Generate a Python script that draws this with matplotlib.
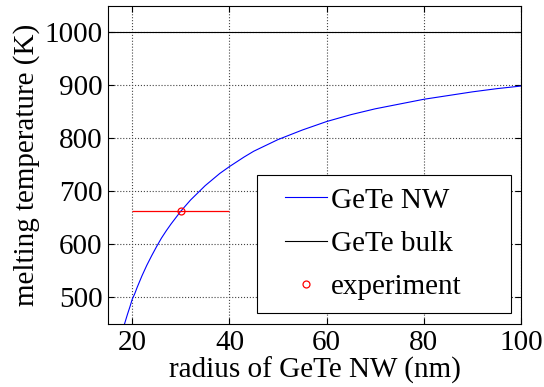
import matplotlib
matplotlib.use("Agg")
import matplotlib.pyplot as plt
from matplotlib.patches import Rectangle

# values
radius_nm = [18.4, 19, 19.5, 20, 20.5, 21, 22, 23, 24, 25, 26, 27, 28, 30, 32,
             35, 38, 40, 43, 45, 50, 55, 60, 65, 70, 75, 80, 85, 90, 95, 100]
t_nw = [450, 468, 482, 497, 507, 519, 541, 561, 579, 596, 612, 626, 639, 663,
        684, 711, 734, 747, 765, 776, 798, 816, 832, 845, 856, 865, 874, 881,
        888, 894, 899]
bulk_r = [15, 100]
bulk_t = [1000, 1000]
exp_r = [30]
exp_t = [663]
exp_rerr = [10]

plt.rcParams['font.family'] = ['Liberation Serif', 'DejaVu Serif']

fig = plt.figure(figsize=(5.44, 3.87), dpi=100)
ax = fig.add_axes([0.1985, 0.1628, 0.7592, 0.8217])

ax.plot(radius_nm, t_nw, color='#0000ff', lw=0.8, label='GeTe NW')
ax.plot(bulk_r, bulk_t, color='black', lw=0.8, label='GeTe bulk')
ax.errorbar(exp_r, exp_t, xerr=exp_rerr, fmt='none', ecolor='#ff0000',
            elinewidth=0.9, capsize=0)
ax.plot(exp_r, exp_t, 'o', mfc='none', mec='#ff0000', ms=5, mew=0.9,
        linestyle='none', label='experiment')

ax.set_xlim(15, 100)
ax.set_ylim(450, 1050)
ax.set_xticks([20, 40, 60, 80, 100])
ax.set_yticks([500, 600, 700, 800, 900, 1000])
ax.grid(True, color='#444444', linestyle=':', linewidth=0.8)
ax.tick_params(direction='in', top=True, right=True, labelsize=21, length=4,
               pad=4)
for s in ax.spines.values():
    s.set_linewidth(0.8)

ax.set_xlabel('radius of GeTe NW (nm)', fontsize=21, labelpad=1)
ax.set_ylabel('melting temperature (K)', fontsize=21, labelpad=3)

# legend box, wider than the entries like the original
box = Rectangle((0.361, 0.035), 0.615, 0.434, transform=ax.transAxes,
                facecolor='white', edgecolor='black', lw=0.8, zorder=5)
ax.add_patch(box)
leg = ax.legend(loc='upper left', bbox_to_anchor=(0.4286, 0.43),
                fontsize=21, frameon=False, handlelength=1.44,
                borderaxespad=0, borderpad=0, labelspacing=0.57,
                handletextpad=0.15)
leg.set_zorder(6)

fig.savefig('out.png', dpi=100)
